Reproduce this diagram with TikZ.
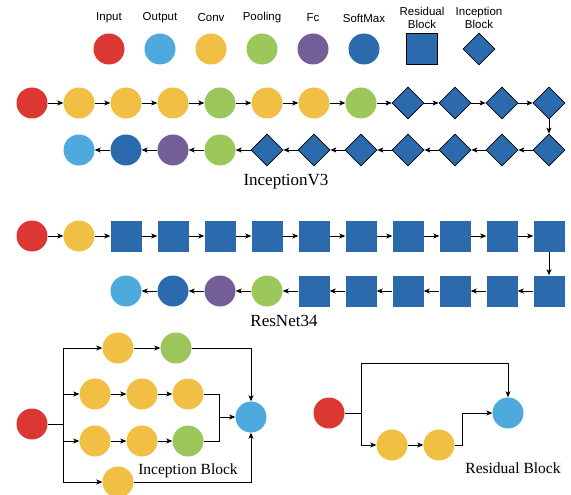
\documentclass[tikz,border=0pt]{standalone}
\usepackage{fontspec}
\setmainfont{Liberation Serif}
\newfontfamily\lgfont{Liberation Sans}
\usepackage{xcolor}
\usetikzlibrary{shapes.geometric,arrows.meta}

\definecolor{cred}{HTML}{DC3833}
\definecolor{clblue}{HTML}{4EA9DD}
\definecolor{cyel}{HTML}{F2BF45}
\definecolor{cgrn}{HTML}{9CC75B}
\definecolor{cpur}{HTML}{745E97}
\definecolor{cdblue}{HTML}{2C6AAE}

\tikzset{
  blk/.style={inner sep=0pt, minimum size=31pt},
  dot/.style={blk, circle},
  inp/.style={dot, fill=cred},
  outp/.style={dot, fill=clblue},
  conv/.style={dot, fill=cyel},
  pool/.style={dot, fill=cgrn},
  fcl/.style={dot, fill=cpur},
  soft/.style={dot, fill=cdblue},
  resb/.style={blk, rectangle, fill=cdblue},
  incb/.style={blk, diamond, minimum size=32pt, fill=cdblue, draw=black, line width=0.7pt},
  arr/.style={line width=0.8pt, -{Stealth[length=6pt,width=5pt,inset=1.5pt]}},
  ln/.style={line width=0.8pt},
  lgtext/.style={font=\lgfont\fontsize{11.5}{13}\selectfont, align=center},
  nettxt/.style={font=\fontsize{17}{20}\selectfont},
  captxt/.style={font=\fontsize{15.5}{18}\selectfont}
}

\begin{document}
\begin{tikzpicture}[x=1pt, y=-1pt]
\useasboundingbox (0,0) rectangle (571,495);

% legend
\foreach \t/\l [count=\i] in {inp/Input, outp/Output, conv/Conv, pool/Pooling, fcl/Fc, soft/SoftMax} {
  \node[\t] (lg\i) at ({109+51*(\i-1)},49) {};
  \node[lgtext] (lt\i) at ({109+51*(\i-1)},18) {\l};
}
\node[resb, draw=black, line width=0.7pt] (lg7) at (422,49) {};
\node[lgtext] (lt7) at (422,18) {Residual\\Block};
\node[incb] (lg8) at (479,49) {};
\node[lgtext] (lt8) at (479,18) {Inception\\Block};

% InceptionV3
\foreach \t [count=\i] in {inp,conv,conv,conv,pool,conv,conv,pool,incb,incb,incb,incb}
  \node[\t] (a\i) at ({32+47*(\i-1)},103) {};
\foreach \t [count=\i] in {outp,soft,fcl,pool,incb,incb,incb,incb,incb,incb,incb}
  \node[\t] (b\i) at ({79+47*(\i-1)},150) {};
\foreach \i [count=\j from 2] in {1,...,11} {\draw[arr] (a\i) -- (a\j);}
\foreach \i [count=\j from 2] in {1,...,10} {\draw[arr] (b\j) -- (b\i);}
\draw[arr] (a12) -- (b11);
\node[nettxt] (capa) at (286,182) {InceptionV3};

% ResNet34
\foreach \t [count=\i] in {inp,conv,resb,resb,resb,resb,resb,resb,resb,resb,resb,resb}
  \node[\t] (c\i) at ({32+47*(\i-1)},236) {};
\foreach \t [count=\i] in {outp,soft,fcl,pool,resb,resb,resb,resb,resb,resb}
  \node[\t] (d\i) at ({126+47*(\i-1)},291) {};
\foreach \i [count=\j from 2] in {1,...,11} {\draw[arr] (c\i) -- (c\j);}
\foreach \i [count=\j from 2] in {1,...,9} {\draw[arr] (d\j) -- (d\i);}
\draw[arr] (c12) -- (d10);
\node[nettxt] (capc) at (284,321) {ResNet34};

% Inception block
\node[inp] (in) at (32,424) {};
\node[conv] (i1) at (118,348) {};
\node[pool] (i2) at (176,348) {};
\node[conv] (j1) at (95,394) {};
\node[conv] (j2) at (142,394) {};
\node[conv] (j3) at (188,394) {};
\node[conv] (k1) at (95,441) {};
\node[conv] (k2) at (142,441) {};
\node[pool] (k3) at (188,441) {};
\node[conv] (l1) at (118,482) {};
\node[outp] (io) at (251,417) {};
\coordinate (sp) at (63,424);
\coordinate (mg) at (219,417);
\draw[ln] (in) -- (sp);
\draw[ln] (sp |- i1) -- (sp |- l1);
\draw[arr] (sp |- i1) -- (i1);
\draw[arr] (sp |- j1) -- (j1);
\draw[arr] (sp |- k1) -- (k1);
\draw[arr] (sp |- l1) -- (l1);
\draw[arr] (i1) -- (i2);
\draw[arr] (j1) -- (j2);
\draw[arr] (j2) -- (j3);
\draw[arr] (k1) -- (k2);
\draw[arr] (k2) -- (k3);
\draw[arr] (i2) -| (io);
\draw[arr] (l1) -| (io);
\draw[ln] (j3) -| (mg);
\draw[ln] (k3) -| (mg);
\draw[arr] (mg) -- (io);
\node[captxt] (capi) at (188,471) {Inception Block};

% Residual block
\node[inp] (rin) at (329,413) {};
\node[conv] (r1) at (392,445) {};
\node[conv] (r2) at (439,445) {};
\node[outp] (rout) at (508,413) {};
\coordinate (rs) at (361,413);
\coordinate (rt) at (361,363);
\coordinate (rm) at (462,445);
\draw[ln] (rin) -- (rs);
\draw[ln] (rt) -- (rs);
\draw[arr] (rt) -| (rout);
\draw[arr] (rs) |- (r1);
\draw[arr] (r1) -- (r2);
\draw[arr] (r2) -- (rm) |- (rout);
\node[captxt, fill=gray!6, inner sep=1pt] (capr) at (513,468) {Residual Block};
\end{tikzpicture}
\end{document}
